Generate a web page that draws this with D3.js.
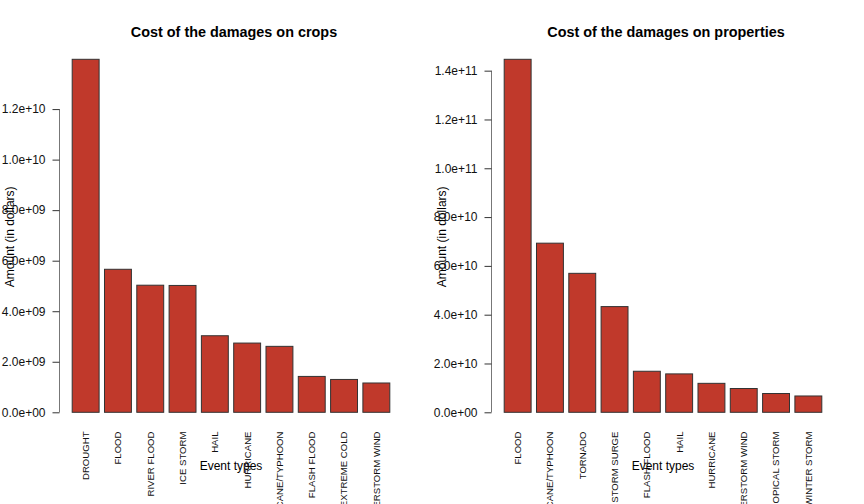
<!DOCTYPE html>
<html>
<head>
<meta charset="utf-8">
<script src="https://cdn.jsdelivr.net/npm/d3@7"></script>
<style>
  body { margin: 0; background: #fff; }
  svg { font-family: "Liberation Sans", Arial, Helvetica, sans-serif; }
</style>
</head>
<body>
<svg id="chart" width="864" height="504"></svg>
<script>
// crop damages (dollars)
var cropEvents = ["DROUGHT", "FLOOD", "RIVER FLOOD", "ICE STORM", "HAIL", "HURRICANE",
  "HURRICANE/TYPHOON", "FLASH FLOOD", "EXTREME COLD", "THUNDERSTORM WIND"];
var cropValues = [13.97e9, 5.66e9, 5.03e9, 5.02e9, 3.03e9, 2.74e9, 2.61e9, 1.42e9, 1.30e9, 1.16e9];
var cropTicks = [0, 2e9, 4e9, 6e9, 8e9, 10e9, 12e9];

// property damages (dollars)
var propEvents = ["FLOOD", "HURRICANE/TYPHOON", "TORNADO", "STORM SURGE", "FLASH FLOOD", "HAIL",
  "HURRICANE", "THUNDERSTORM WIND", "TROPICAL STORM", "WINTER STORM"];
var propValues = [144.66e9, 69.31e9, 56.95e9, 43.32e9, 16.82e9, 15.74e9, 11.87e9, 9.75e9, 7.70e9, 6.69e9];
var propTicks = [0, 2e10, 4e10, 6e10, 8e10, 10e10, 12e10, 14e10];

var svg = d3.select("#chart");

// R style scientific label: 1.2e+10, 0.0e+00
function sciFormat(v) {
  var s = v.toExponential(1);
  return s.replace(/e([+-])(\d)$/, "e$10$2");
}

function drawPanel(offsetX, title, events, values, ticks) {
  var left = offsetX + 59.5, right = offsetX + 402.5;
  var bottom = 412.3, top = 59.3;

  var x = d3.scaleBand()
    .domain(events)
    .range([left, right])
    .paddingInner(0.2 / 1.2)
    .paddingOuter(0.393);

  var y = d3.scaleLinear()
    .domain([0, d3.max(values)])
    .range([bottom, top]);

  var g = svg.append("g");

  g.selectAll("rect.bar")
    .data(values)
    .enter().append("rect")
    .attr("class", "bar")
    .attr("x", function (d, i) { return x(events[i]); })
    .attr("y", function (d) { return y(d); })
    .attr("width", x.bandwidth())
    .attr("height", function (d) { return y(0) - y(d); })
    .attr("fill", "#c0392b")
    .attr("stroke", "#333")
    .attr("stroke-width", 1);

  // y axis, line only between first and last tick like R's axis()
  var yAxis = d3.axisLeft(y)
    .tickValues(ticks)
    .tickFormat(sciFormat)
    .tickSizeInner(7)
    .tickSizeOuter(0)
    .tickPadding(7);
  var ax = g.append("g")
    .attr("transform", "translate(" + left + ",0)")
    .call(yAxis);
  ax.select(".domain")
    .attr("d", "M0," + y(ticks[0]) + "V" + y(ticks[ticks.length - 1]))
    .attr("stroke", "#777");
  ax.selectAll(".tick line").attr("stroke", "#333");
  ax.selectAll(".tick text")
    .attr("font-size", "12px")
    .attr("font-family", "Liberation Sans, Arial, sans-serif")
    .attr("fill", "#111");

  // category labels, vertical
  g.selectAll("text.cat")
    .data(events)
    .enter().append("text")
    .attr("class", "cat")
    .attr("transform", function (d) {
      return "translate(" + (x(d) + x.bandwidth() / 2) + ",431.5) rotate(-90)";
    })
    .attr("text-anchor", "end")
    .attr("dy", "0.35em")
    .attr("font-size", "9.6px")
    .attr("fill", "#111")
    .text(function (d) { return d; });

  var cx = (left + right) / 2;
  g.append("text")
    .attr("x", cx + 3)
    .attr("y", 36.5)
    .attr("text-anchor", "middle")
    .attr("font-size", "14.4px")
    .attr("font-weight", "bold")
    .text(title);

  g.append("text")
    .attr("x", cx)
    .attr("y", 470)
    .attr("text-anchor", "middle")
    .attr("font-size", "12px")
    .text("Event types");

  g.append("text")
    .attr("transform", "translate(" + (offsetX + 13.5) + "," + ((bottom + top) / 2 + 1) + ") rotate(-90)")
    .attr("text-anchor", "middle")
    .attr("font-size", "12px")
    .text("Amount (in dollars)");
}

drawPanel(0, "Cost of the damages on crops", cropEvents, cropValues, cropTicks);
drawPanel(432, "Cost of the damages on properties", propEvents, propValues, propTicks);
</script>
</body>
</html>
